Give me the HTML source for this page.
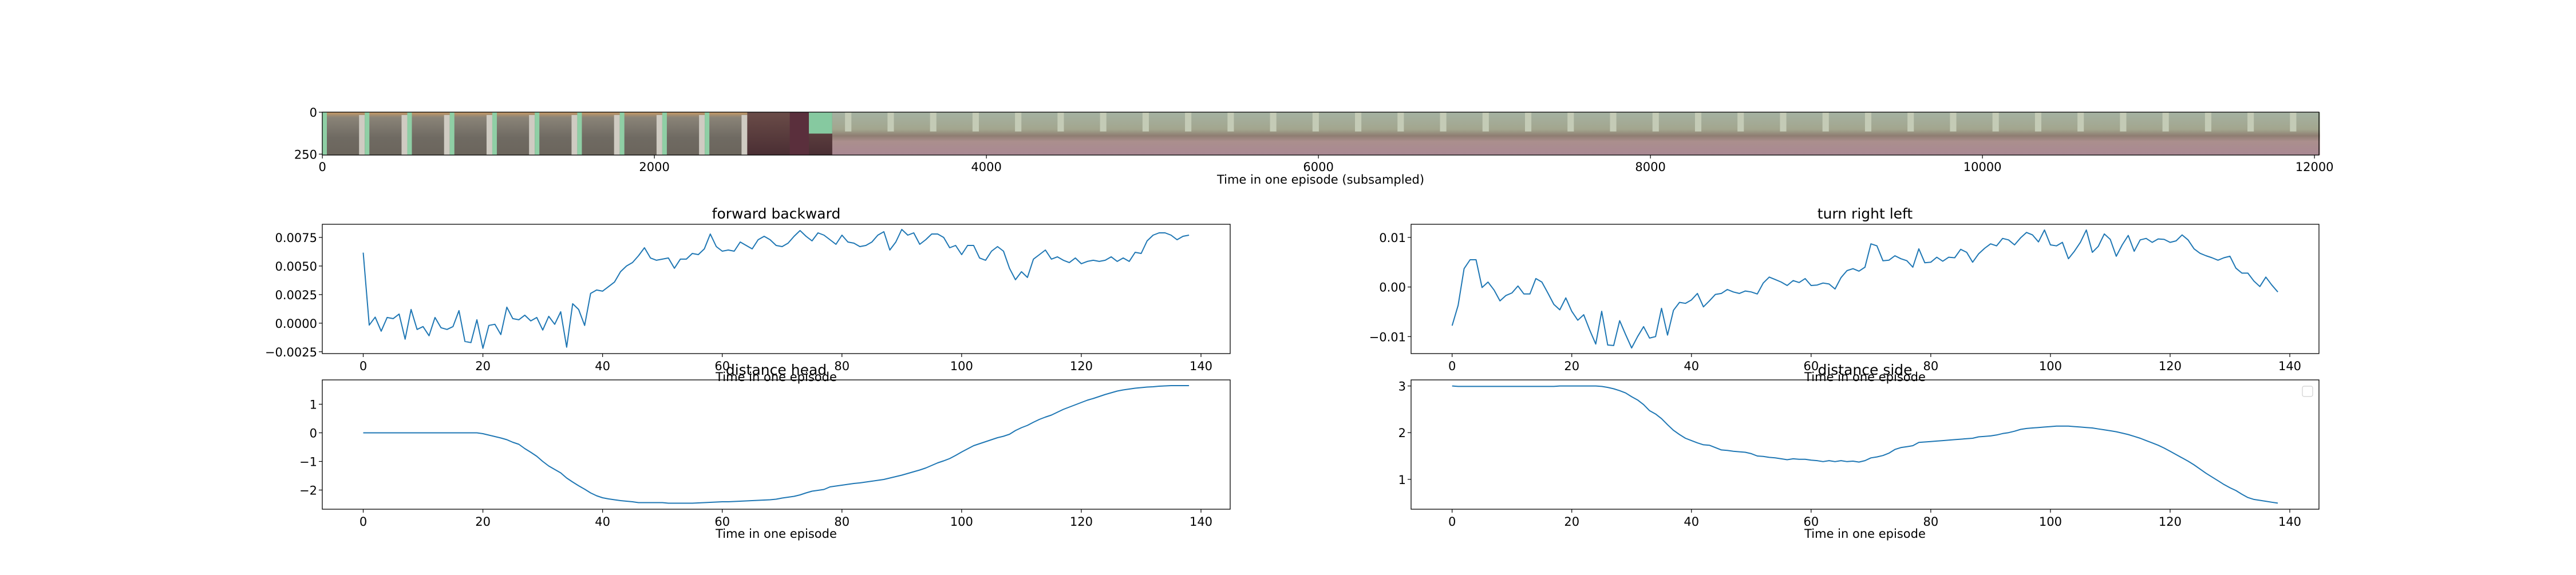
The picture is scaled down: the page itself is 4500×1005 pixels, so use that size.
<!DOCTYPE html>
<html><head><meta charset="utf-8"><style>
html,body{margin:0;padding:0;background:#fff;}
svg text{font-family:"DejaVu Sans","Liberation Sans",sans-serif;fill:#000;}
</style></head><body>
<svg id="fig" xmlns="http://www.w3.org/2000/svg" width="4500" height="1000" viewBox="0 0 4500 1000">
<rect width="4500" height="1000" fill="#fff"/>
<defs>
<linearGradient id="gSuit" x1="0" y1="0" x2="0" y2="1">
<stop offset="0" stop-color="#c99a64"/><stop offset="0.12" stop-color="#8a8478"/><stop offset="0.6" stop-color="#6f6a62"/><stop offset="1" stop-color="#6b655c"/></linearGradient>
<linearGradient id="gCurt" x1="0" y1="0" x2="0" y2="1">
<stop offset="0" stop-color="#a4b2a2"/><stop offset="0.4" stop-color="#a3a68e"/><stop offset="0.55" stop-color="#8e7d72"/><stop offset="0.68" stop-color="#ab8f8d"/><stop offset="1" stop-color="#a98893"/></linearGradient>
<linearGradient id="gDark" x1="0" y1="0" x2="0" y2="1">
<stop offset="0" stop-color="#6a4c48"/><stop offset="1" stop-color="#4a2e33"/></linearGradient>
</defs>
<g id="strip"></g>
<g id="charts"></g>
</svg>
<script>
// ---- data ----
const steps = Array.from({length:139},(_, i)=>i);
const forwardBackward = [0.00617,-0.00017,0.00053,-0.0007,0.0005,0.0004,0.0008,-0.0014,0.0012,-0.00055,-0.0003,-0.0011,0.0005,-0.0004,-0.00055,-0.0003,0.0011,-0.0016,-0.0017,0.0003,-0.0022,-0.0002,-0.0001,-0.001,0.0014,0.0004,0.0003,0.0007,0.0002,0.0005,-0.0006,0.0006,-0.0001,0.001,-0.0021,0.0017,0.0012,-0.0002,0.0026,0.0029,0.0028,0.0032,0.0036,0.0045,0.005,0.0053,0.0059,0.0066,0.0057,0.0055,0.0056,0.0057,0.0048,0.0056,0.0056,0.0061,0.006,0.0065,0.0078,0.0067,0.0063,0.0064,0.0063,0.0071,0.0068,0.0065,0.0073,0.0076,0.0073,0.0068,0.0067,0.007,0.0076,0.0081,0.0076,0.0072,0.0079,0.0077,0.0073,0.0069,0.0077,0.0071,0.007,0.0067,0.0068,0.0071,0.0077,0.008,0.0064,0.0071,0.0082,0.0077,0.0079,0.0069,0.0073,0.0078,0.0078,0.0075,0.0066,0.0068,0.006,0.0068,0.0068,0.0057,0.0055,0.0063,0.0067,0.0063,0.0048,0.0038,0.0045,0.004,0.0056,0.006,0.0064,0.0056,0.0058,0.0055,0.0053,0.0057,0.0052,0.0054,0.0055,0.0054,0.0055,0.0058,0.0054,0.0057,0.0054,0.0062,0.0061,0.0072,0.0077,0.0079,0.0079,0.0077,0.0073,0.0076,0.0077];
const turnRightLeft = [-0.0078,-0.0037,0.0037,0.0055,0.0055,-0.0001,0.001,-0.0006,-0.0028,-0.0017,-0.0012,0.0002,-0.0014,-0.0014,0.0017,0.001,-0.0012,-0.0035,-0.0046,-0.0022,-0.0049,-0.0067,-0.0056,-0.0087,-0.0115,-0.0049,-0.0117,-0.0118,-0.0068,-0.0096,-0.0123,-0.01,-0.008,-0.0103,-0.01,-0.0043,-0.0097,-0.0047,-0.0031,-0.0033,-0.0026,-0.0013,-0.004,-0.0028,-0.0015,-0.0013,-0.0005,-0.001,-0.0013,-0.0008,-0.001,-0.0014,0.0008,0.002,0.0015,0.001,0.0003,0.0013,0.0009,0.0017,0.0003,0.0004,0.0008,0.0006,-0.0004,0.0019,0.0033,0.0037,0.0032,0.004,0.0087,0.0083,0.0053,0.0054,0.0063,0.0057,0.0053,0.004,0.0077,0.0049,0.005,0.006,0.0052,0.006,0.0059,0.0076,0.007,0.005,0.0067,0.0078,0.0087,0.0083,0.0098,0.0095,0.0085,0.0099,0.011,0.0105,0.0091,0.0115,0.0085,0.0083,0.009,0.0057,0.0072,0.009,0.0115,0.007,0.0082,0.0107,0.0096,0.0062,0.0085,0.0104,0.0072,0.0095,0.0098,0.009,0.0097,0.0096,0.009,0.0093,0.0105,0.0095,0.0077,0.0068,0.0063,0.0059,0.0054,0.0059,0.0062,0.0038,0.0028,0.0028,0.0012,0.0001,0.002,0.0004,-0.001];
const distanceHead = [0,0,0,0,0,0,0,0,0,0,0,0,0,0,0,0,0,0,0,0,-0.03,-0.08,-0.13,-0.18,-0.24,-0.33,-0.4,-0.55,-0.68,-0.82,-1.0,-1.16,-1.28,-1.4,-1.58,-1.72,-1.85,-1.97,-2.1,-2.2,-2.27,-2.31,-2.34,-2.37,-2.39,-2.41,-2.44,-2.44,-2.44,-2.44,-2.44,-2.46,-2.46,-2.46,-2.46,-2.46,-2.45,-2.44,-2.43,-2.42,-2.41,-2.41,-2.4,-2.39,-2.38,-2.37,-2.36,-2.35,-2.34,-2.32,-2.28,-2.25,-2.22,-2.17,-2.1,-2.04,-2.01,-1.98,-1.89,-1.86,-1.83,-1.8,-1.77,-1.75,-1.72,-1.69,-1.66,-1.63,-1.58,-1.53,-1.48,-1.42,-1.36,-1.3,-1.23,-1.14,-1.05,-0.98,-0.9,-0.79,-0.67,-0.56,-0.45,-0.38,-0.31,-0.24,-0.17,-0.12,-0.05,0.08,0.18,0.26,0.37,0.47,0.55,0.62,0.72,0.82,0.9,0.98,1.06,1.14,1.2,1.27,1.34,1.4,1.46,1.5,1.53,1.56,1.58,1.6,1.61,1.63,1.64,1.65,1.65,1.65,1.65];
const distanceSide = [3.0,2.99,2.99,2.99,2.99,2.99,2.99,2.99,2.99,2.99,2.99,2.99,2.99,2.99,2.99,2.99,2.99,2.99,3.0,3.0,3.0,3.0,3.0,3.0,3.0,2.99,2.97,2.94,2.9,2.85,2.77,2.7,2.6,2.47,2.4,2.3,2.17,2.05,1.96,1.88,1.83,1.78,1.74,1.73,1.68,1.63,1.62,1.6,1.59,1.58,1.55,1.5,1.49,1.47,1.46,1.44,1.42,1.44,1.43,1.43,1.41,1.4,1.38,1.4,1.38,1.4,1.38,1.39,1.37,1.4,1.46,1.48,1.51,1.56,1.64,1.68,1.7,1.72,1.79,1.8,1.81,1.82,1.83,1.84,1.85,1.86,1.87,1.88,1.91,1.92,1.93,1.95,1.98,2.0,2.03,2.07,2.09,2.1,2.11,2.12,2.13,2.14,2.14,2.14,2.13,2.12,2.11,2.1,2.08,2.06,2.04,2.02,1.99,1.96,1.92,1.88,1.83,1.78,1.73,1.67,1.6,1.53,1.46,1.39,1.31,1.22,1.13,1.05,0.97,0.89,0.82,0.76,0.68,0.61,0.57,0.55,0.53,0.51,0.49];
const xTicks = [0,20,40,60,80,100,120,140];
const fbTicks = [-0.0025,0,0.0025,0.005,0.0075];
const fbTickLabels = ["\u22120.0025","0.0000","0.0025","0.0050","0.0075"];
const trTicks = [-0.01,0,0.01];
const trTickLabels = ["\u22120.01","0.00","0.01"];
const dhTicks = [-2,-1,0,1];
const dhTickLabels = ["\u22122","\u22121","0","1"];
const dsTicks = [1,2,3];
const dsTickLabels = ["1","2","3"];
const stripXTicks = [0,2000,4000,6000,8000,10000,12000];
const stripYTicks = [0,250];

const NS="http://www.w3.org/2000/svg";
function mk(tag, attrs, parent){const e=document.createElementNS(NS,tag);for(const k in attrs)e.setAttribute(k,attrs[k]);parent.appendChild(e);return e;}

// ---- image strip ----
const strip=document.getElementById('strip');
const sx0=563, sPx=0.29, sTop=196, sBot=271;
const sX = v => sx0 + (v+0.5)*sPx;
const sY = v => sTop + (v+0.5)*(sBot-sTop)/256;
for(let f=0; f<47; f++){
  const x=sX(f*256)-0.5*sPx, w=256*sPx;
  const fill = f<10 ? 'url(#gSuit)' : (f<12 ? 'url(#gDark)' : 'url(#gCurt)');
  const r=mk('rect',{x:x,y:sTop,width:w+0.5,height:sBot-sTop,fill:fill},strip);
  
  
  if(f<10){
    mk('rect',{x:x,y:sTop,width:8,height:sBot-sTop,fill:'#8fcfa5'},strip);
    mk('rect',{x:x+w-10,y:sTop+5,width:10,height:sBot-sTop-5,fill:'#cfcbc2'},strip);
  } else if(f===11){
    mk('rect',{x:x,y:sTop,width:w*0.45,height:sBot-sTop,fill:'#5a2f3c'},strip);
    mk('rect',{x:x+w*0.45,y:sTop,width:w*0.55,height:(sBot-sTop)*0.5,fill:'#86c9a0'},strip);
  } else if(f>=12){
    mk('rect',{x:x+w*0.3,y:sTop,width:w*0.15,height:(sBot-sTop)*0.45,fill:'#c4cbb6'},strip);
  }
}
mk('rect',{x:sx0,y:sTop,width:4051-sx0,height:sBot-sTop,fill:'none',stroke:'#000','stroke-width':1.3},strip);
stripXTicks.forEach(t=>{
  const x=sX(t);
  mk('line',{x1:x,y1:sBot,x2:x,y2:sBot+6,stroke:'#000','stroke-width':1.2},strip);
  const tx=mk('text',{x:x,y:sBot+28,'font-size':21,'text-anchor':'middle'},strip);
  tx.textContent=String(t);
  
  
});
stripYTicks.forEach(t=>{
  const y=sY(t);
  mk('line',{x1:sx0-6,y1:y,x2:sx0,y2:y,stroke:'#000','stroke-width':1.2},strip);
  const tx=mk('text',{x:sx0-9,y:y+8,'font-size':21,'text-anchor':'end'},strip);
  tx.textContent=String(t);
  
  
});
const sl=mk('text',{x:(sx0+4051)/2,y:321,'font-size':21,'text-anchor':'middle'},strip);
sl.textContent='Time in one episode (subsampled)';



// ---- line charts ----
const charts=document.getElementById('charts');
function chart(name, L, R, T, B, x0px, x140px, yDom, yTicks, yLabels, series, title, titleY, xlabY, legend){
  const g=mk('g',{},charts);
  
  
  const xS = v => x0px + v*(x140px-x0px)/140;
  const yS = v => B - (v-yDom[0])/(yDom[1]-yDom[0])*(B-T);
  const tt=mk('text',{x:(L+R)/2,y:titleY,'font-size':25,'text-anchor':'middle'},g);
  tt.textContent=title;
  
  
  xTicks.forEach(t=>{
    const x=xS(t);
    mk('line',{x1:x,y1:B,x2:x,y2:B+6,stroke:'#000','stroke-width':1.2},g);
    const tx=mk('text',{x:x,y:B+29,'font-size':21,'text-anchor':'middle'},g);
    tx.textContent=String(t);
    
    
  });
  yTicks.forEach((t,i)=>{
    const y=yS(t);
    mk('line',{x1:L-6,y1:y,x2:L,y2:y,stroke:'#000','stroke-width':1.2},g);
    const tx=mk('text',{x:L-9,y:y+8,'font-size':21,'text-anchor':'end'},g);
    tx.textContent=yLabels[i];
    
    
  });
  const xl=mk('text',{x:(L+R)/2,y:xlabY,'font-size':21,'text-anchor':'middle'},g);
  xl.textContent='Time in one episode';
  
  
  const pts=steps.map((s,i)=>xS(s).toFixed(1)+','+yS(series[i]).toFixed(1)).join(' ');
  const pl=mk('polyline',{points:pts,fill:'none',stroke:'#1f77b4','stroke-width':2,'stroke-linejoin':'round'},g);
  
  
  mk('rect',{x:L,y:T,width:R-L,height:B-T,fill:'none',stroke:'#000','stroke-width':1.3},g);
  if(legend){
    const lg=mk('rect',{x:R-29,y:T+11,width:18,height:18,rx:3,fill:'#fff',stroke:'#d0d0d0','stroke-width':1.2},g);
    
    
  }
}
chart('forward-backward-chart',563,2149,392,618,634.5,2098,[-0.00266,0.00865],fbTicks,fbTickLabels,forwardBackward,'forward backward',382,666,false);
chart('turn-right-left-chart',2465,4051,392,618,2536.7,4000,[-0.01343,0.01265],trTicks,trTickLabels,turnRightLeft,'turn right left',382,666,false);
chart('distance-head-chart',563,2149,664,890,634.5,2098,[-2.67,1.85],dhTicks,dhTickLabels,distanceHead,'distance head',655,940,false);
chart('distance-side-chart',2465,4051,664,890,2536.7,4000,[0.36,3.13],dsTicks,dsTickLabels,distanceSide,'distance side',655,940,true);
</script>
</body></html>
